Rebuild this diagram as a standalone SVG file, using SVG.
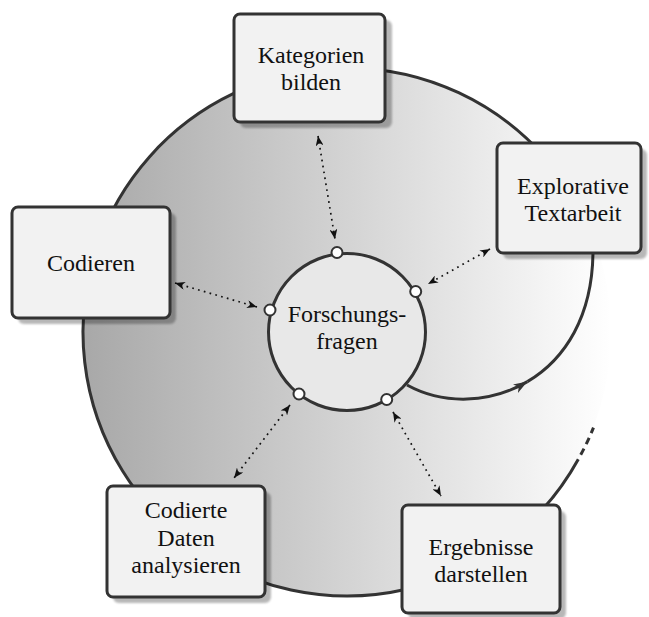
<svg xmlns="http://www.w3.org/2000/svg" width="649" height="617" viewBox="0 0 649 617">
<style>
.box{fill:#f2f2f2;stroke:#333333;stroke-width:3}
.shadow{fill:#000000;opacity:0.28}
.lbl{font-family:'Liberation Serif','DejaVu Serif','Noto Serif',serif;font-size:24px;fill:#111111;text-anchor:middle}
.outline{fill:none;stroke:#333333;stroke-width:3}
.dot{fill:none;stroke:#111111;stroke-width:1.7;stroke-dasharray:1.7 4.3;marker-start:url(#sth);marker-end:url(#sth)}
.port{fill:#ffffff;stroke:#333333;stroke-width:2}
</style>
<defs>
<linearGradient id="disk" gradientUnits="userSpaceOnUse" x1="83" y1="0" x2="611" y2="0">
<stop offset="0" stop-color="#a8a8a8"/>
<stop offset="1" stop-color="#ffffff"/>
</linearGradient>
<filter id="blur" x="-10%" y="-10%" width="120%" height="120%">
<feGaussianBlur stdDeviation="1.2"/>
</filter>
<marker id="sth" viewBox="0 0 10 8" refX="10" refY="4" markerWidth="10" markerHeight="8" markerUnits="userSpaceOnUse" orient="auto-start-reverse">
<path d="M0,0 L10,4 L0,8 L2.8,4 z" fill="#111111"/>
</marker>
<marker id="big" viewBox="0 0 14 10" refX="14" refY="5" markerWidth="14" markerHeight="10" markerUnits="userSpaceOnUse" orient="auto">
<path d="M0,0 L14,5 L0,10 L4,5 z" fill="#333333"/>
</marker>
</defs>

<g id="background-disk">
<circle cx="347" cy="332" r="264" fill="url(#disk)"/>
<path class="outline" d="M578.3,459.2 A264,264 0 1 1 543.2,155.3"/>
<path class="outline" d="M578.3,459.2 A264,264 0 0 0 597.5,417" stroke-dasharray="0 5 7 5 7 5 6 60"/>
</g>

<g id="connectors">
<path class="outline" d="M407,385 C443.5,405 490,403.75 527.4,381.6" marker-end="url(#big)"/>
<path class="outline" d="M527.4,381.6 C564.75,359.5 593,316.5 593,250"/>
<line class="dot" x1="318" y1="136" x2="335" y2="239"/>
<line class="dot" x1="490" y1="249" x2="428" y2="284"/>
<line class="dot" x1="175" y1="283" x2="257" y2="307"/>
<line class="dot" x1="290" y1="405" x2="234" y2="478"/>
<line class="dot" x1="393" y1="412" x2="441" y2="496"/>
</g>

<g id="forschungsfragen">
<circle cx="347" cy="332" r="78.5" fill="#e8e8e8" stroke="#333333" stroke-width="3"/>
<circle class="port" cx="337" cy="252.5" r="5.5"/>
<circle class="port" cx="415.7" cy="291.5" r="5.5"/>
<circle class="port" cx="270" cy="310" r="5.5"/>
<circle class="port" cx="299" cy="394" r="5.5"/>
<circle class="port" cx="386.7" cy="399.5" r="5.5"/>
<text class="lbl" x="347" y="322">Forschungs-</text>
<text class="lbl" x="347" y="349">fragen</text>
</g>

<g id="kategorien">
<rect class="shadow" x="240" y="20" width="152" height="108" rx="6" filter="url(#blur)"/>
<rect class="box" x="234" y="14" width="151" height="108" rx="6"/>
<text class="lbl" x="311" y="63">Kategorien</text>
<text class="lbl" x="311" y="90">bilden</text>
</g>

<g id="explorative">
<rect class="shadow" x="503" y="149" width="144" height="110" rx="6" filter="url(#blur)"/>
<rect class="box" x="497" y="143" width="144" height="110" rx="6"/>
<text class="lbl" x="573" y="194">Explorative</text>
<text class="lbl" x="573" y="221">Textarbeit</text>
</g>

<g id="codieren">
<rect class="shadow" x="18" y="213" width="158" height="111" rx="6" filter="url(#blur)"/>
<rect class="box" x="12" y="207" width="158" height="111" rx="6"/>
<text class="lbl" x="91" y="271">Codieren</text>
</g>

<g id="codierte-daten">
<rect class="shadow" x="113" y="492" width="158" height="111" rx="6" filter="url(#blur)"/>
<rect class="box" x="107" y="486" width="158" height="111" rx="6"/>
<text class="lbl" x="186" y="518">Codierte</text>
<text class="lbl" x="186" y="546">Daten</text>
<text class="lbl" x="186" y="573">analysieren</text>
</g>

<g id="ergebnisse">
<rect class="shadow" x="408" y="511" width="158" height="108" rx="6" filter="url(#blur)"/>
<rect class="box" x="402" y="505" width="158" height="108" rx="6"/>
<text class="lbl" x="481" y="555">Ergebnisse</text>
<text class="lbl" x="481" y="582">darstellen</text>
</g>
</svg>
